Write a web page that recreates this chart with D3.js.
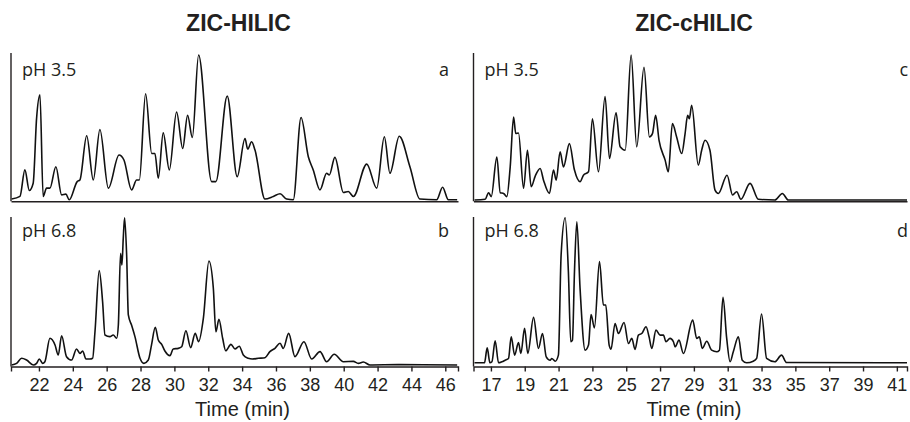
<!DOCTYPE html>
<html>
<head>
<meta charset="utf-8">
<script src="https://cdn.jsdelivr.net/npm/d3@7.9.0/dist/d3.min.js"></script>
<style>
  html, body { margin: 0; padding: 0; background: #fff; }
  svg { display: block; }
  .title { font-family: "Liberation Sans", Arial, sans-serif; font-weight: bold; font-size: 23px; fill: #231f20; }
  .tag { font-family: "Open Sans", "Noto Sans", sans-serif; font-size: 18px; fill: #231f20; }
  .xlabel { font-family: "Liberation Sans", Arial, sans-serif; font-size: 20px; fill: #231f20; }
  .axis text { font-family: "Liberation Sans", Arial, sans-serif; font-size: 18px; fill: #231f20; }
  .axis path, .axis line { stroke: #231f20; stroke-width: 1.4; }
  .trace { fill: none; stroke: #111; stroke-width: 1.6; stroke-linejoin: round; }
</style>
</head>
<body>
<svg id="chart" width="910" height="422"></svg>
<script>
// tick labels (min)
const hilicTicks = [22, 24, 26, 28, 30, 32, 34, 36, 38, 40, 42, 44, 46];
const chilicTicks = [17, 19, 21, 23, 25, 27, 29, 31, 33, 35, 37, 39, 41];

// traces: [time (min), relative intensity 0-100]
const traceA = [
  [20.39, 0.5], [20.88, 2.3], [21.17, 20.5], [21.43, 6.4], [21.66, 11.4], [21.86, 55.7], [22.06, 72],
  [22.25, 2.3], [22.45, 8], [22.65, 8], [23.0, 22.7], [23.34, 3.4], [23.59, 3.9], [23.79, 0],
  [24.26, 12.5], [24.42, 13.6], [24.82, 43.9], [25.21, 13.6], [25.6, 48.2], [26.1, 8], [26.73, 30.7],
  [27.02, 27.3], [27.47, 6.8], [27.77, 13.6], [27.93, 13.6], [28.3, 72.7], [28.66, 31.8], [28.85, 31.8],
  [29.05, 14.8], [29.34, 45.9], [29.7, 20.5], [30.13, 60.2], [30.49, 35.2], [30.78, 58], [31.06, 42.7],
  [31.43, 99.3], [32.2, 12.5], [32.45, 12.5], [33.12, 71.1], [33.71, 15.9], [34.17, 42], [34.33, 34.8],
  [34.56, 39.8], [34.76, 34.1], [35.35, 0.5], [35.84, 2.3], [36.24, 4.1], [36.63, 0.5], [37.02, 0],
  [37.48, 56.4], [37.91, 29.5], [38.2, 20.5], [38.6, 6.8], [38.99, 18.2], [39.15, 17], [39.48, 29.1],
  [39.98, 5], [40.27, 5.7], [40.57, 2.3], [41.36, 24.5], [41.95, 8], [42.4, 43.2], [42.73, 18.2],
  [43.28, 43.6], [43.91, 22.7], [44.5, 0.5], [45.49, 0], [45.84, 8.6], [46.18, 0], [46.7, 0]
];

const traceB = [
  [20.39, 0.7], [20.68, 1.8], [20.98, 5.2], [21.27, 4.0], [21.67, 0.7], [21.86, 1.8], [22.02, 4.7],
  [22.22, 1.8], [22.35, 2.9], [22.65, 18.7], [22.95, 14.2], [23.14, 7.4], [23.34, 20.4], [23.63, 6.3],
  [23.93, 4.0], [24.22, 11.5], [24.42, 8.5], [24.58, 10.1], [24.78, 4.7], [25.01, 4.7], [25.17, 5.2],
  [25.31, 23.1], [25.56, 64.3], [25.76, 43.4], [25.9, 20.9], [26.19, 19.8], [26.39, 20.9], [26.59, 18.7],
  [26.69, 27.6], [26.82, 76], [26.9, 68.1], [26.98, 86.1], [27.06, 100], [27.18, 74.8], [27.28, 34.4],
  [27.47, 27.6], [27.67, 19.8], [27.97, 5.2], [28.2, 1.8], [28.46, 4.0], [28.65, 14.2], [28.87, 26.1],
  [29.05, 17.5], [29.25, 14.6], [29.44, 10.1], [29.74, 7.0], [29.93, 11.5], [30.23, 11.9], [30.43, 13.0],
  [30.68, 23.8], [30.96, 12.4], [31.23, 22.0], [31.43, 16.4], [31.71, 32.1], [32.04, 70.8], [32.3, 52.4],
  [32.45, 23.1], [32.63, 31.5], [32.85, 18.7], [33.03, 10.3], [33.34, 14.6], [33.58, 11.5], [33.83, 13.3],
  [34.07, 7.4], [34.36, 5.2], [34.6, 4.7], [34.96, 5.2], [35.35, 5.6], [35.64, 9.7], [35.94, 11.9],
  [36.24, 15.3], [36.43, 11.9], [36.75, 22.0], [37.12, 6.3], [37.65, 16.4], [38.11, 4.7], [38.6, 9.7],
  [38.99, 2.9], [39.44, 7.9], [39.98, 2.9], [40.57, 3.1], [40.86, 1.8], [41.16, 2.7], [41.55, 0.7],
  [43.22, 0.9], [46.7, 0.7]
];

const traceC = [
  [16.03, 0], [16.66, 0.5], [16.86, 5], [17.02, 2.3], [17.35, 29.5], [17.55, 5], [17.75, 4.5],
  [17.94, 2.3], [18.14, 22.7], [18.34, 56.8], [18.47, 45.5], [18.63, 45.9], [18.93, 8], [19.16, 34.1],
  [19.38, 9.1], [19.62, 16.4], [19.91, 21.6], [20.11, 13.6], [20.46, 4.5], [20.7, 20.5], [20.86, 13.6],
  [21.09, 33], [21.29, 22.7], [21.64, 38.6], [21.94, 20.5], [22.27, 12.5], [22.47, 17], [22.77, 19.3],
  [23.0, 55.7], [23.36, 19.3], [23.75, 70.9], [24.01, 28.4], [24.4, 59.8], [24.64, 36.4], [24.94, 34.1],
  [25.29, 99.3], [25.62, 36.4], [26.05, 90.9], [26.37, 43.2], [26.55, 45.5], [26.74, 58], [26.94, 40.9],
  [27.3, 27.3], [27.49, 19.3], [27.73, 52.3], [27.98, 43.2], [28.28, 31.8], [28.48, 45.5], [28.63, 58],
  [28.73, 55.7], [28.87, 64.8], [29.26, 23.9], [29.46, 34.1], [29.66, 40.9], [29.95, 34.1], [30.25, 6.8],
  [30.45, 4.5], [30.96, 17], [31.29, 3.4], [31.53, 5.7], [31.78, 0.5], [32.32, 11.4], [32.81, 0.5],
  [33.79, 0], [34.23, 4.5], [34.58, 0], [41.6, 0]
];

const traceD = [
  [16.03, 0], [16.62, 0], [16.78, 10.3], [16.94, 0], [17.06, 0.7], [17.25, 15.2], [17.45, 0],
  [17.65, 0.7], [17.84, 1.8], [18.04, 3.0], [18.2, 17.9], [18.4, 5.3], [18.63, 14], [18.77, 6.4],
  [18.99, 23.7], [19.18, 6.4], [19.52, 31.3], [19.81, 9.9], [20.05, 20.2], [20.27, 4.1], [20.5, 1.8],
  [20.6, 3.0], [20.8, 1.1], [20.99, 5.3], [21.15, 74.3], [21.39, 100], [21.58, 62.8], [21.72, 14.5],
  [21.82, 15.6], [21.94, 62.8], [22.08, 97.2], [22.27, 51.3], [22.57, 8.7], [22.77, 12.2], [22.92, 33.3],
  [23.12, 24.1], [23.42, 69.7], [23.65, 39.8], [23.79, 39.8], [23.99, 12.2], [24.1, 9.4], [24.34, 27.1],
  [24.54, 20.2], [24.87, 27.8], [25.13, 13.3], [25.33, 16.8], [25.52, 9.2], [25.72, 19.1], [25.92, 20.2],
  [26.17, 24.8], [26.35, 17.9], [26.51, 9.9], [26.76, 22.5], [27.0, 19.1], [27.2, 19.1], [27.35, 14.5],
  [27.59, 16.8], [27.79, 14.5], [27.89, 11], [28.12, 15.6], [28.38, 6.4], [28.93, 29.4], [29.17, 16.8],
  [29.32, 17.9], [29.5, 9.9], [29.76, 14.9], [30.05, 8.7], [30.35, 7.6], [30.51, 8.7], [30.72, 45.1],
  [30.94, 16.8], [31.14, 0.7], [31.33, 7.6], [31.63, 17.9], [31.86, 1.8], [32.12, 0], [32.51, 1.1],
  [32.71, 3.0], [33.0, 33.6], [33.3, 3.0], [33.79, 0.7], [34.18, 5.3], [34.48, 0.2], [41.6, 0]
];

const columnTitles = ["ZIC-HILIC", "ZIC-cHILIC"];
const phLabels = ["pH 3.5", "pH 6.8"];
const panelLetters = [["a", "b"], ["c", "d"]];

const svg = d3.select("#chart");

const columns = [
  { title: columnTitles[0], left: 11, right: 458, domain: [20.35, 46.75], ticks: hilicTicks, titleX: 238.5, labelX: 242.5,
    traces: [traceA, traceB], base: [199.8, 366] },
  { title: columnTitles[1], left: 473.5, right: 907, domain: [15.97, 41.6], ticks: chilicTicks, titleX: 694, labelX: 694,
    traces: [traceC, traceD], base: [200, 362.8] }
];
const rows = [
  { top: 53, peakTop: 54, axisY: 201.3 },
  { top: 217, peakTop: 217.7, axisY: 366.5 }
];

columns.forEach((col, ci) => {
  const x = d3.scaleLinear().domain(col.domain).range([col.left, col.right]);

  svg.append("text")
    .attr("class", "title")
    .attr("x", col.titleX)
    .attr("y", 30.7)
    .attr("text-anchor", "middle")
    .text(col.title);

  rows.forEach((row, ri) => {
    const y = d3.scaleLinear().domain([0, 100]).range([col.base[ri], row.peakTop]);

    // y axis line (no ticks)
    svg.append("line")
      .attr("x1", col.left).attr("x2", col.left)
      .attr("y1", row.top).attr("y2", row.axisY)
      .attr("stroke", "#231f20").attr("stroke-width", 1.4);

    const axis = d3.axisBottom(x).tickValues(col.ticks).tickSizeOuter(0).tickSize(ri === 1 ? 5 : 0).tickPadding(6.5);
    const g = svg.append("g")
      .attr("class", "axis")
      .attr("transform", `translate(0,${row.axisY})`)
      .call(axis);
    if (ri === 0) g.selectAll(".tick").remove();

    const line = d3.line()
      .x(d => x(d[0]))
      .y(d => y(d[1]))
      .curve(d3.curveMonotoneX);

    svg.append("path")
      .datum(col.traces[ri])
      .attr("class", "trace")
      .attr("d", line);

    svg.append("text")
      .attr("class", "tag")
      .attr("x", col.left + 11)
      .attr("y", ri === 0 ? 75.5 : 236.5)
      .text(phLabels[ri]);

    svg.append("text")
      .attr("class", "tag")
      .attr("x", ci === 0 ? 449 : 908)
      .attr("y", ri === 0 ? 75.5 : 236.5)
      .attr("text-anchor", "end")
      .text(panelLetters[ci][ri]);
  });

  svg.append("text")
    .attr("class", "xlabel")
    .attr("x", col.labelX)
    .attr("y", 416)
    .attr("text-anchor", "middle")
    .text("Time (min)");
});
</script>
</body>
</html>
